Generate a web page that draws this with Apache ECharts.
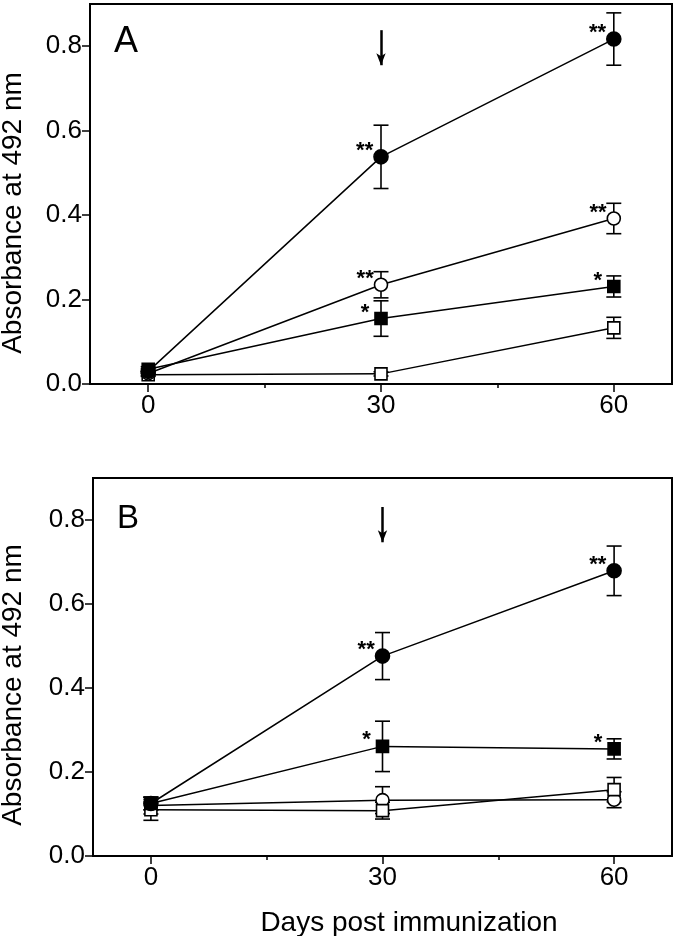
<!DOCTYPE html>
<html>
<head>
<meta charset="utf-8">
<script src="https://cdn.jsdelivr.net/npm/echarts@6.0.0/dist/echarts.min.js"></script>
<style>
html,body{margin:0;padding:0;background:#fff;}
#chart{width:675px;height:936px;}
</style>
</head>
<body>
<div id="chart"></div>
<script>
// ---- data ----
const days = [0, 30, 60];
const xTickValues = [0, 30, 60];
const xMinorTickValues = [15, 45];
const yTickValues = [0, 0.2, 0.4, 0.6, 0.8];

// Panel A
const aFilledCircle = [0.030, 0.538, 0.817];
const aFilledCircleErr = [0.006, 0.075, 0.062];
const aFilledCircleSig = ['', '**', '**'];
const aOpenCircle = [0.025, 0.235, 0.392];
const aOpenCircleErr = [0.005, 0.031, 0.036];
const aOpenCircleSig = ['', '**', '**'];
const aFilledSquare = [0.035, 0.155, 0.231];
const aFilledSquareErr = [0.006, 0.042, 0.025];
const aFilledSquareSig = ['', '*', '*'];
const aOpenSquare = [0.022, 0.024, 0.133];
const aOpenSquareErr = [0.004, 0.005, 0.025];
const aOpenSquareSig = ['', '', ''];
const aArrow = [0.838, 0.755];

// Panel B
const bFilledCircle = [0.125, 0.476, 0.679];
const bFilledCircleErr = [0.015, 0.056, 0.059];
const bFilledCircleSig = ['', '**', '**'];
const bOpenCircle = [0.120, 0.133, 0.134];
const bOpenCircleErr = [0.020, 0.032, 0.019];
const bOpenCircleSig = ['', '', ''];
const bFilledSquare = [0.125, 0.261, 0.255];
const bFilledSquareErr = [0.015, 0.060, 0.024];
const bFilledSquareSig = ['', '*', '*'];
const bOpenSquare = [0.110, 0.108, 0.158];
const bOpenSquareErr = [0.025, 0.020, 0.029];
const bOpenSquareSig = ['', '', ''];
const bArrow = [0.831, 0.747];

// ---- styles ----
const FONT = 'Liberation Sans, Arial, Helvetica, sans-serif';
const styles = {
  filledCircle: {symbol: 'circle', size: 14, color: '#000', border: '#000', dist: 0},
  openCircle:   {symbol: 'circle', size: 13, color: '#fff', border: '#000', dist: 0},
  filledSquare: {symbol: 'rect',   size: 12, color: '#000', border: '#000', dist: 5},
  openSquare:   {symbol: 'rect',   size: 12, color: '#fff', border: '#000', dist: 5}
};

function errSeries(xi, yi, vals, errs) {
  return {
    type: 'custom',
    xAxisIndex: xi, yAxisIndex: yi,
    silent: true,
    z: 2,
    data: days.map((d, i) => [d, vals[i], errs[i]]),
    renderItem: function (params, api) {
      const x = api.value(0), y = api.value(1), e = api.value(2);
      const top = api.coord([x, y + e]);
      const bot = api.coord([x, y - e]);
      const hw = 7.5;
      const st = {stroke: '#000', lineWidth: 1.6};
      return {
        type: 'group',
        children: [
          {type: 'line', shape: {x1: top[0], y1: top[1], x2: bot[0], y2: bot[1]}, style: st},
          {type: 'line', shape: {x1: top[0] - hw, y1: top[1], x2: top[0] + hw, y2: top[1]}, style: st},
          {type: 'line', shape: {x1: bot[0] - hw, y1: bot[1], x2: bot[0] + hw, y2: bot[1]}, style: st}
        ]
      };
    }
  };
}

function lineSeries(xi, yi, vals, sig, st, arrow) {
  const s = {
    type: 'line',
    xAxisIndex: xi, yAxisIndex: yi,
    z: 3,
    silent: true,
    animation: false,
    data: days.map((d, i) => [d, vals[i]]),
    symbol: st.symbol,
    symbolSize: st.size,
    showAllSymbol: true,
    lineStyle: {color: '#000', width: 1.5},
    itemStyle: {color: st.color, borderColor: st.border, borderWidth: 1.6},
    label: {
      show: true,
      position: 'left',
      distance: st.dist,
      offset: [0, -6],
      formatter: p => sig[p.dataIndex],
      fontSize: 22,
      fontWeight: 'bold',
      fontFamily: FONT,
      color: '#000'
    }
  };
  if (arrow) {
    s.markLine = {
      silent: true,
      animation: false,
      symbol: ['none', 'arrow'],
      symbolSize: [7, 12],
      label: {show: false},
      lineStyle: {color: '#000', width: 2.5, type: 'solid'},
      data: [[{coord: [30, arrow[0]]}, {coord: [30, arrow[1]]}]]
    };
  }
  return s;
}

function mainX(gi) {
  return {
    type: 'value', gridIndex: gi, min: -7.5, max: 67.5, position: 'bottom', offset: 0,
    axisLine: {show: true, onZero: false, lineStyle: {color: '#000', width: 2}},
    axisTick: {show: true, inside: false, length: 8, lineStyle: {color: '#000', width: 1.5}, customValues: xTickValues},
    axisLabel: {show: true, customValues: xTickValues, fontSize: 26, color: '#000', fontFamily: FONT, margin: 9},
    splitLine: {show: false}
  };
}
function minorX(gi) {
  return {
    type: 'value', gridIndex: gi, min: -7.5, max: 67.5, position: 'bottom', offset: 0,
    axisLine: {show: false, onZero: false},
    axisTick: {show: true, inside: false, length: 4, lineStyle: {color: '#000', width: 1.5}, customValues: xMinorTickValues},
    axisLabel: {show: false},
    splitLine: {show: false}
  };
}
function mainY(gi) {
  return {
    type: 'value', gridIndex: gi, min: 0, max: 0.9, position: 'left',
    axisLine: {show: true, onZero: false, lineStyle: {color: '#000', width: 2}},
    axisTick: {show: true, inside: false, length: 8, lineStyle: {color: '#000', width: 1.5}, customValues: yTickValues},
    axisLabel: {show: true, customValues: yTickValues, fontSize: 26, color: '#000', fontFamily: FONT, margin: 8,
      formatter: v => Number(v).toFixed(1)},
    splitLine: {show: false}
  };
}

const series = [
  errSeries(0, 0, aOpenSquare, aOpenSquareErr),
  errSeries(0, 0, aFilledSquare, aFilledSquareErr),
  errSeries(0, 0, aOpenCircle, aOpenCircleErr),
  errSeries(0, 0, aFilledCircle, aFilledCircleErr),
  lineSeries(0, 0, aOpenSquare, aOpenSquareSig, styles.openSquare),
  lineSeries(0, 0, aFilledSquare, aFilledSquareSig, styles.filledSquare),
  lineSeries(0, 0, aOpenCircle, aOpenCircleSig, styles.openCircle),
  lineSeries(0, 0, aFilledCircle, aFilledCircleSig, styles.filledCircle, aArrow),

  errSeries(2, 1, bOpenCircle, bOpenCircleErr),
  errSeries(2, 1, bOpenSquare, bOpenSquareErr),
  errSeries(2, 1, bFilledSquare, bFilledSquareErr),
  errSeries(2, 1, bFilledCircle, bFilledCircleErr),
  lineSeries(2, 1, bOpenCircle, bOpenCircleSig, styles.openCircle),
  lineSeries(2, 1, bOpenSquare, bOpenSquareSig, styles.openSquare),
  lineSeries(2, 1, bFilledSquare, bFilledSquareSig, styles.filledSquare),
  lineSeries(2, 1, bFilledCircle, bFilledCircleSig, styles.filledCircle, bArrow)
];

const chart = echarts.init(document.getElementById('chart'), null, {renderer: 'canvas'});
chart.setOption({
  backgroundColor: '#fff',
  animation: false,
  grid: [
    {left: 90, right: 3, top: 4, height: 380, show: true, borderColor: '#000', borderWidth: 2, backgroundColor: 'transparent'},
    {left: 93, right: 3, top: 478, height: 378, show: true, borderColor: '#000', borderWidth: 2, backgroundColor: 'transparent'}
  ],
  xAxis: [mainX(0), minorX(0), mainX(1), minorX(1)],
  yAxis: [mainY(0), mainY(1)],
  series: series,
  graphic: [
    {type: 'text', left: 114, top: 24, style: {text: 'A', fontSize: 36, fontFamily: FONT, fill: '#000'}},
    {type: 'text', left: 117, top: 502, style: {text: 'B', fontSize: 33, fontFamily: FONT, fill: '#000'}},
    {type: 'text', x: 13, y: 213, rotation: Math.PI / 2,
      style: {text: 'Absorbance at 492 nm', fontSize: 28, fontFamily: FONT, fill: '#000', align: 'center', verticalAlign: 'middle'}},
    {type: 'text', x: 13, y: 685, rotation: Math.PI / 2,
      style: {text: 'Absorbance at 492 nm', fontSize: 28, fontFamily: FONT, fill: '#000', align: 'center', verticalAlign: 'middle'}},
    {type: 'text', x: 409, y: 923,
      style: {text: 'Days post immunization', fontSize: 28, fontFamily: FONT, fill: '#000', align: 'center', verticalAlign: 'middle'}}
  ]
});
</script>
</body>
</html>
